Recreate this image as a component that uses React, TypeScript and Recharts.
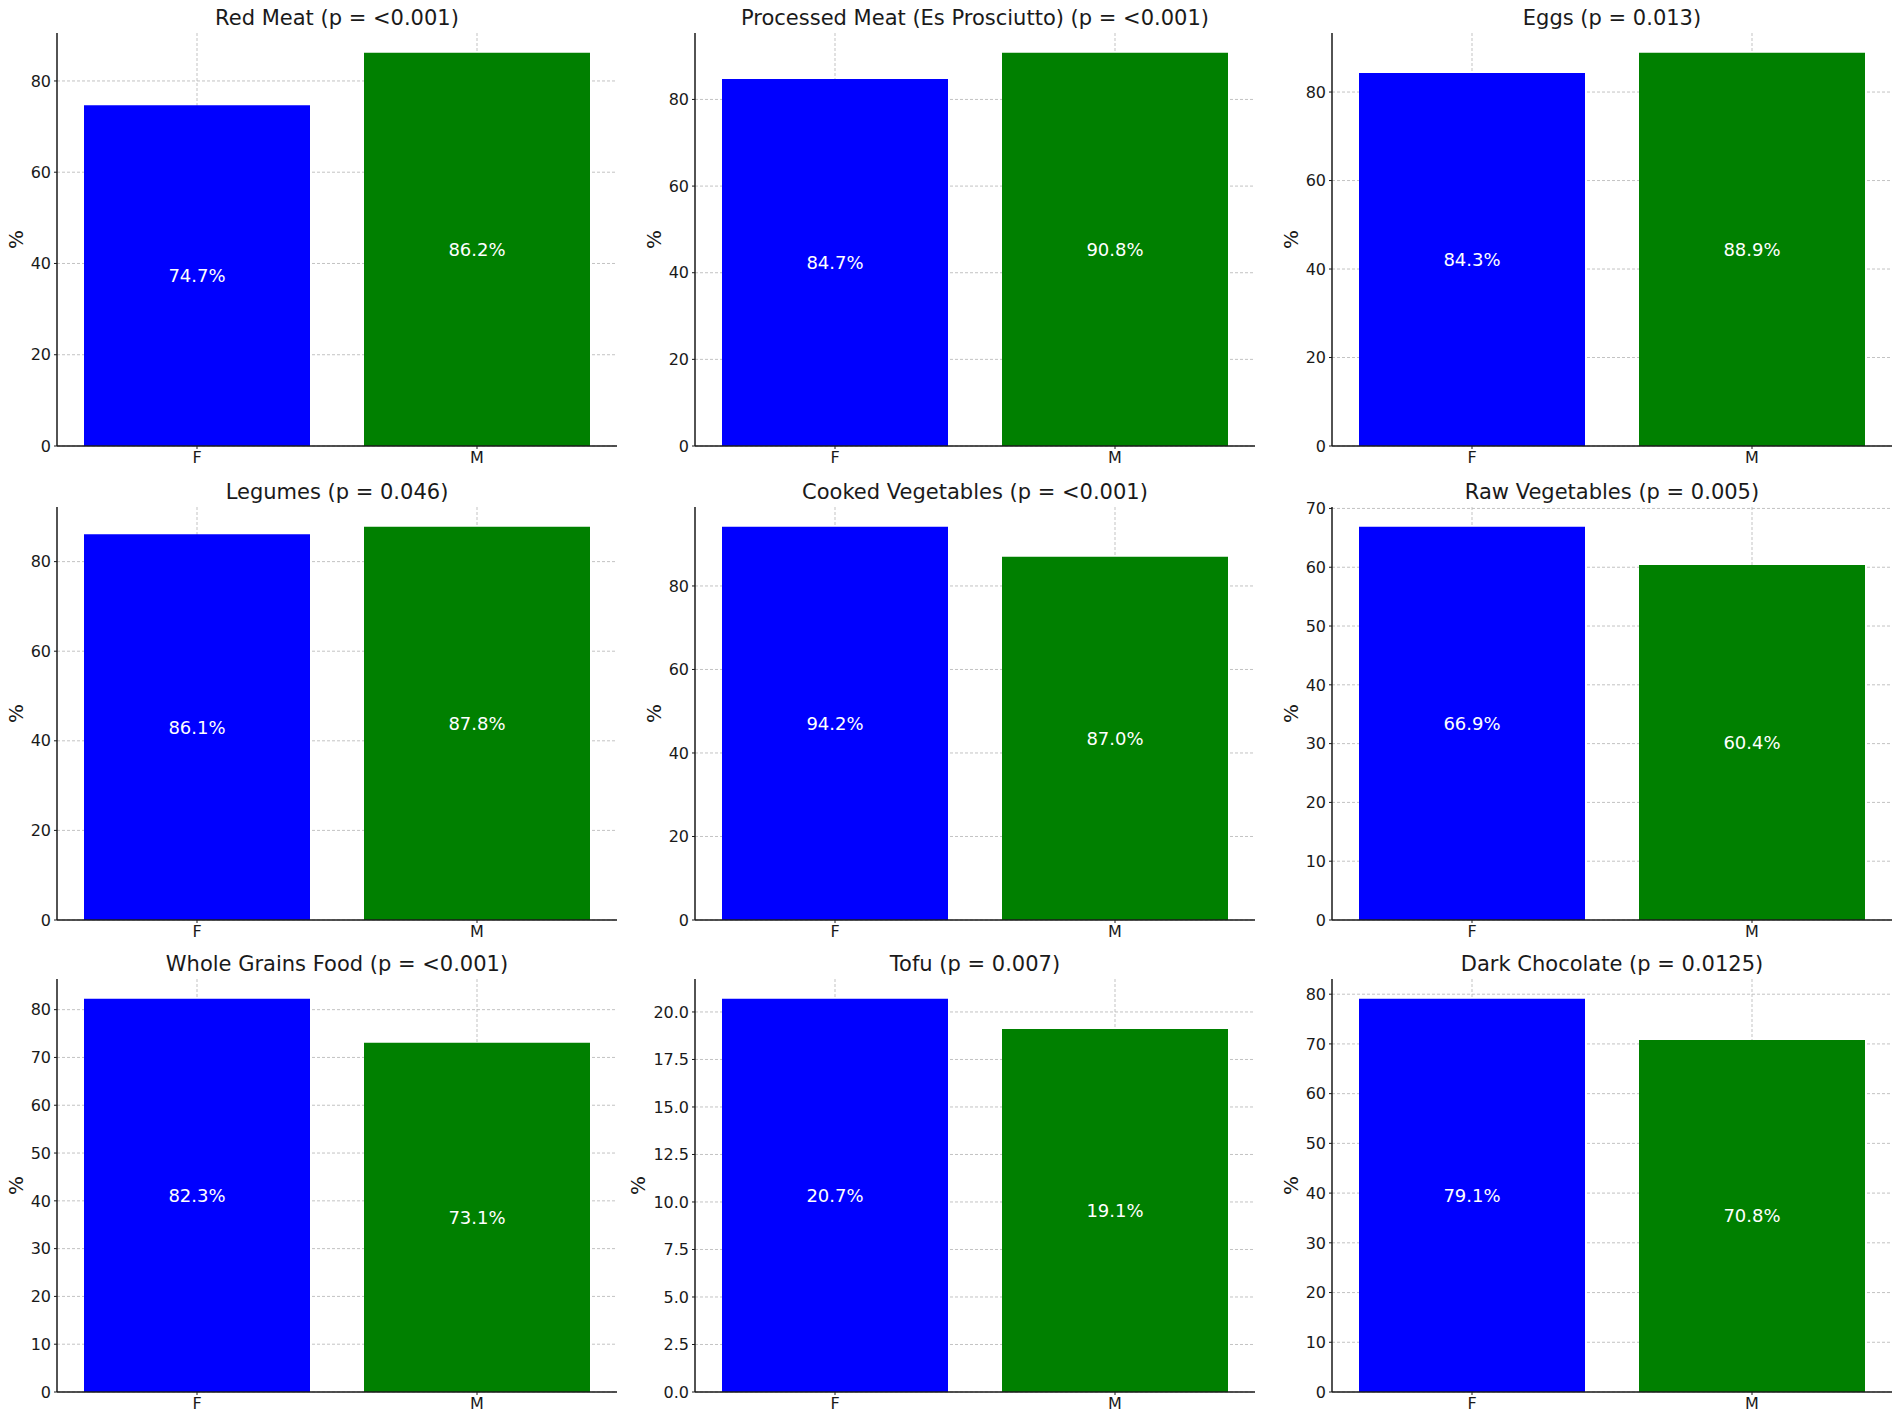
import React from "react";
import { Bar, BarChart, CartesianGrid, Cell, LabelList, XAxis, YAxis } from "recharts";

const sexes = ["F", "M"];
const barColors = ["#0000ff", "#008000"];

const panelTitles = [
  "Red Meat (p = <0.001)",
  "Processed Meat (Es Prosciutto) (p = <0.001)",
  "Eggs (p = 0.013)",
  "Legumes (p = 0.046)",
  "Cooked Vegetables (p = <0.001)",
  "Raw Vegetables (p = 0.005)",
  "Whole Grains Food (p = <0.001)",
  "Tofu (p = 0.007)",
  "Dark Chocolate (p = 0.0125)",
];

const femaleValues = [74.7, 84.7, 84.3, 86.1, 94.2, 66.9, 82.3, 20.7, 79.1];
const maleValues = [86.2, 90.8, 88.9, 87.8, 87.0, 60.4, 73.1, 19.1, 70.8];

const yTicks = [
  [0, 20, 40, 60, 80],
  [0, 20, 40, 60, 80],
  [0, 20, 40, 60, 80],
  [0, 20, 40, 60, 80],
  [0, 20, 40, 60, 80],
  [0, 10, 20, 30, 40, 50, 60, 70],
  [0, 10, 20, 30, 40, 50, 60, 70, 80],
  [0, 2.5, 5, 7.5, 10, 12.5, 15, 17.5, 20],
  [0, 10, 20, 30, 40, 50, 60, 70, 80],
];
const yTickDecimals = [0, 0, 0, 0, 0, 0, 0, 1, 0];

// layout of the plot areas (matplotlib 3x3 grid)
const colLefts = [57, 695, 1332];
const rowTops = [33, 507, 979];
const PLOT_W = 560;
const PLOT_H = 413;
const Y_AXIS_W = 90;
const X_AXIS_H = 27;
const CHART_W = Y_AXIS_W + PLOT_W + 10;
const CHART_H = 33 + PLOT_H + X_AXIS_H;

const FONT = "'DejaVu Sans', Verdana, sans-serif";
const INK = "#1a1a1a";

function Panel({ index }: { index: number }) {
  const data = sexes.map((sex, i) => ({
    sex,
    value: i === 0 ? femaleValues[index] : maleValues[index],
  }));
  const top = Math.max(femaleValues[index], maleValues[index]) * 1.05;
  const decimals = yTickDecimals[index];
  const labelLen = Math.max(...yTicks[index].map((t) => t.toFixed(decimals).length));
  const yLabelX = Y_AXIS_W - (25 + labelLen * 8);
  const yLabelY = 33 + PLOT_H / 2;
  const left = colLefts[index % 3];
  const topPx = rowTops[Math.floor(index / 3)];

  return (
    <>
      <div
        style={{
          position: "absolute",
          left,
          top: topPx - 27,
          width: PLOT_W,
          height: 24,
          lineHeight: "24px",
          textAlign: "center",
          fontFamily: FONT,
          fontSize: 21,
          color: INK,
          whiteSpace: "nowrap",
        }}
      >
        {panelTitles[index]}
      </div>
      <div style={{ position: "absolute", left: left - Y_AXIS_W, top: topPx - 33 }}>
        <BarChart
          width={CHART_W}
          height={CHART_H}
          data={data}
          margin={{ top: 33, right: 10, bottom: 0, left: 0 }}
        >
          <XAxis
            dataKey="sex"
            height={X_AXIS_H}
            tickSize={3}
            tickMargin={3}
            axisLine={{ stroke: INK, strokeWidth: 1.5 }}
            tickLine={{ stroke: INK }}
            tick={{ fill: INK, fontSize: 16, fontFamily: FONT }}
          />
          <YAxis
            type="number"
            width={Y_AXIS_W}
            domain={[0, top]}
            ticks={yTicks[index]}
            tickFormatter={(v: number) => v.toFixed(decimals)}
            tickSize={3}
            tickMargin={3}
            axisLine={{ stroke: INK, strokeWidth: 1.5 }}
            tickLine={{ stroke: INK }}
            tick={{ fill: INK, fontSize: 16, fontFamily: FONT }}
            label={{
              value: "%",
              content: () => (
                <text
                  x={yLabelX}
                  y={yLabelY}
                  transform={`rotate(-90 ${yLabelX} ${yLabelY})`}
                  textAnchor="middle"
                  dominantBaseline="central"
                  fill={INK}
                  fontSize={20}
                  fontFamily={FONT}
                >
                  %
                </text>
              ),
            }}
          />
          <Bar dataKey="value" barSize={226} isAnimationActive={false}>
            {data.map((d, i) => (
              <Cell key={d.sex} fill={barColors[i]} />
            ))}
            <LabelList
              dataKey="value"
              position="center"
              formatter={(v: number) => `${Number(v).toFixed(1)}%`}
              fill="#ffffff"
              stroke="none"
              fontSize={18}
              fontFamily={FONT}
            />
          </Bar>
          <CartesianGrid
            syncWithTicks
            stroke="#b8b8b8"
            strokeOpacity={0.85}
            strokeDasharray="3 2"
            strokeWidth={1}
          />
        </BarChart>
      </div>
    </>
  );
}

export default function App() {
  return (
    <div
      style={{
        position: "absolute",
        left: 0,
        top: 0,
        width: 1902,
        height: 1419,
        background: "#fff",
        overflow: "hidden",
      }}
    >
      {panelTitles.map((_, i) => (
        <Panel key={i} index={i} />
      ))}
    </div>
  );
}
